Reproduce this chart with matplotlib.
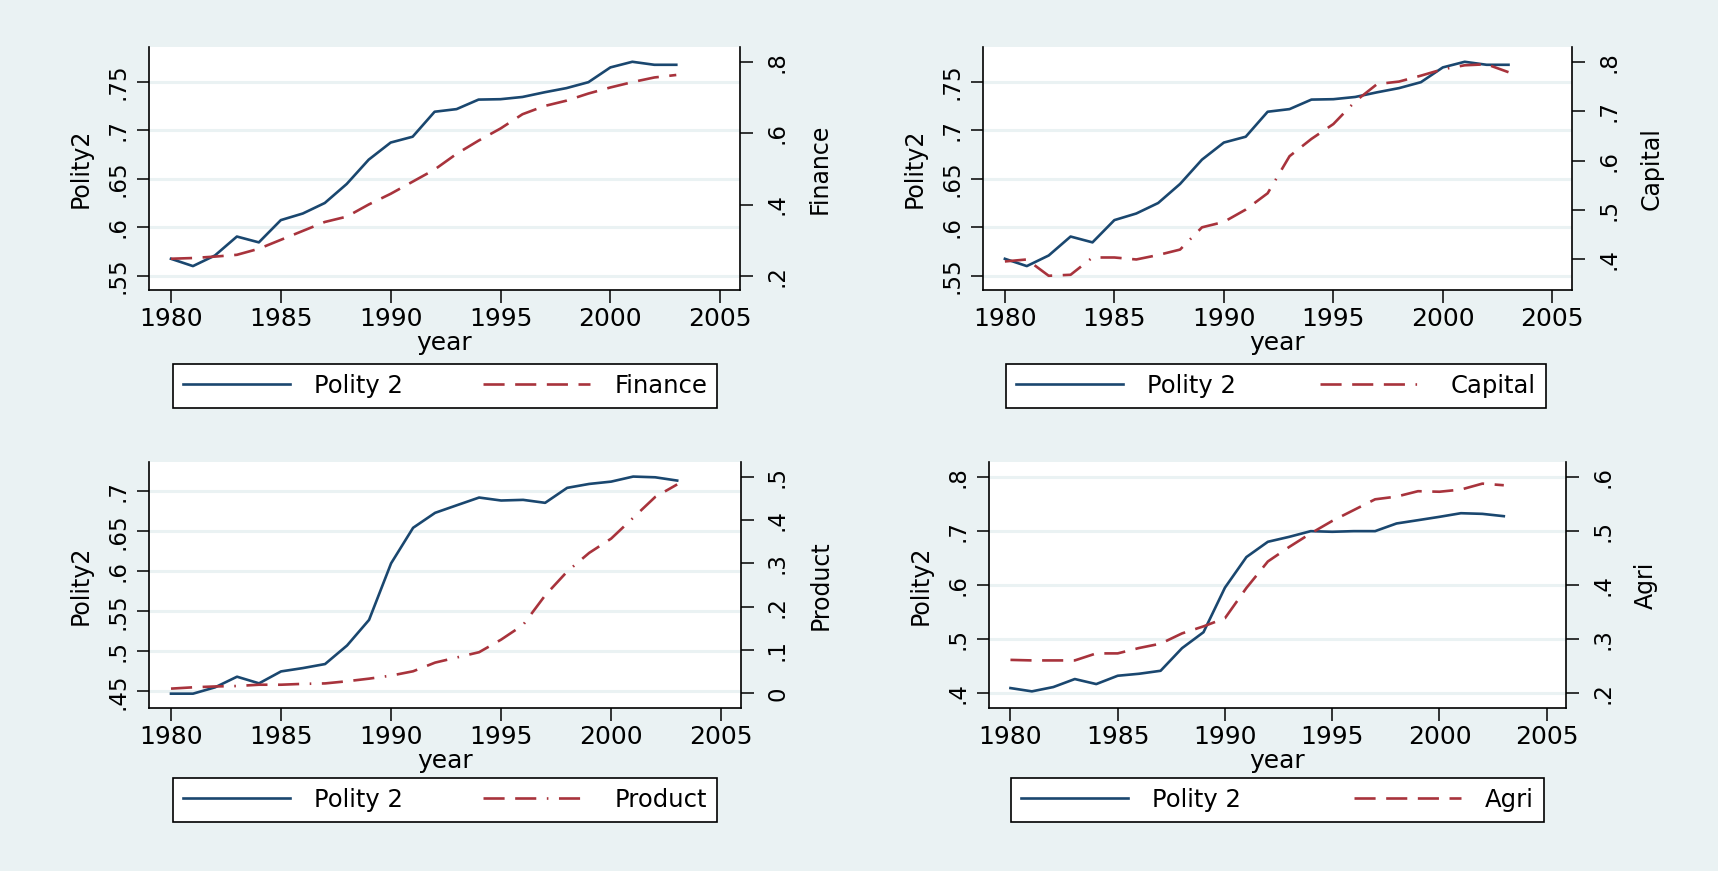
import matplotlib
matplotlib.use("Agg")
import matplotlib.pyplot as plt
import numpy as np

years = list(range(1980, 2004))

# polity2 for the finance / capital sample
polity_fc = [.5676, .5601, .5710, .5905, .5845, .6074, .6142, .6250, .6446, .6696,
             .6872, .6932, .7189, .7216, .7314, .7318, .7341, .7389, .7432, .7493,
             .7645, .7703, .7672, .7672]
finance = [.248, .250, .254, .259, .276, .301, .326, .351, .366, .400,
           .430, .464, .498, .542, .579, .613, .653, .676, .691, .711,
           .728, .743, .756, .763]
capital = [.396, .400, .367, .369, .404, .404, .400, .409, .420, .465,
           .476, .501, .534, .609, .644, .674, .720, .755, .760, .772,
           .785, .793, .795, .779]

# polity2 for the product sample
polity_p = [.4471, .4471, .4550, .4683, .4600, .4749, .4791, .4841, .5073, .5393,
            .6099, .6543, .6730, .6826, .6921, .6884, .6892, .6855, .7042, .7091,
            .7120, .7183, .7174, .7133]
product = [.011, .014, .016, .017, .020, .020, .022, .023, .028, .034,
           .041, .051, .071, .083, .095, .124, .158, .226, .281, .324,
           .357, .405, .453, .482]

# polity2 for the agri sample
polity_a = [.4098, .4037, .4117, .4265, .4172, .4326, .4363, .4418, .4837, .5132,
            .5957, .6523, .6806, .6898, .7003, .6991, .7003, .7003, .7145, .7206,
            .7268, .7335, .7323, .7280]
agri = [.262, .261, .261, .261, .274, .274, .284, .292, .311, .324,
        .339, .395, .444, .471, .496, .519, .539, .559, .564, .574,
        .573, .577, .588, .585]

BG = "#EAF2F3"
BLUE = "#1A476F"
RED = "#A8333C"
W, H = 1718, 871

plt.rcParams['font.family'] = ['DejaVu Sans']

fig = plt.figure(figsize=(W / 100, H / 100), dpi=100)
fig.patch.set_facecolor(BG)


def fmt(v):
    s = f"{v:g}"
    if s.startswith("0."):
        s = s[1:]
    return s


def panel(box, leg_box, polity, other, name, lticks, llim, rticks, rlim, dashes):
    x0, y0, x1, y1 = box
    ax = fig.add_axes([x0 / W, 1 - y1 / H, (x1 - x0) / W, (y1 - y0) / H])
    ax.set_facecolor("white")
    ax2 = ax.twinx()

    l1, = ax.plot(years, polity, color=BLUE, lw=1.9, label="Polity 2")
    l2, = ax2.plot(years, other, color=RED, lw=1.9, dashes=dashes, label=name)

    ax.set_xlim(1979.0, 2005.9)
    ax.set_xticks(range(1980, 2006, 5))
    ax.set_ylim(*llim)
    ax.set_yticks(lticks)
    ax.set_yticklabels([fmt(v) for v in lticks])
    ax2.set_ylim(*rlim)
    ax2.set_yticks(rticks)
    ax2.set_yticklabels([fmt(v) for v in rticks])

    ax.grid(axis="y", color=BG, lw=2.2)
    ax.set_axisbelow(True)
    for a in (ax, ax2):
        a.spines["top"].set_visible(False)
        a.tick_params(length=9, width=1.1, color="black")
        for s in a.spines.values():
            s.set_linewidth(1.2)
    ax.spines["right"].set_visible(False)
    ax2.spines["left"].set_visible(False)
    ax2.spines["bottom"].set_visible(False)

    ax.tick_params(axis="x", labelsize=18, pad=3)
    ax.tick_params(axis="y", labelsize=16.5, pad=5, labelrotation=90)
    ax2.tick_params(axis="y", labelsize=16.5, pad=9, labelrotation=90)
    for t in ax.get_yticklabels() + ax2.get_yticklabels():
        t.set_va("center")

    ax.set_xlabel("year", fontsize=18, labelpad=0)
    ax.set_ylabel("Polity2", fontsize=17, labelpad=10)
    ax2.set_ylabel(name, fontsize=17, labelpad=14)

    lx0, ly0, lx1, ly1 = leg_box
    leg = fig.legend([l1, l2], ["Polity 2", name], loc="center", ncol=2,
                     mode="expand", fontsize=17.5, handlelength=4.4,
                     handletextpad=1.0, borderpad=0.4,
                     bbox_to_anchor=(lx0 / W, 1 - ly1 / H, (lx1 - lx0) / W, (ly1 - ly0) / H),
                     fancybox=False, framealpha=1, edgecolor="black")
    leg.get_frame().set_linewidth(1.2)
    return ax


panel((149, 47, 740, 290), (161, 367, 729, 405), polity_fc, finance, "Finance",
      [.55, .6, .65, .7, .75], (.5355, .7855), [.2, .4, .6, .8], (.1604, .8414), (8, 4))
panel((983, 47, 1572, 290), (994, 367, 1558, 405), polity_fc, capital, "Capital",
      [.55, .6, .65, .7, .75], (.5355, .7855), [.4, .5, .6, .7, .8], (.3382, .83),
      (8, 4, 8, 4, 8, 4, 0.6, 4))
panel((149, 462, 741, 708), (161, 780, 729, 820), polity_p, product, "Product",
      [.45, .5, .55, .6, .65, .7], (.4292, .7365), [0, .1, .2, .3, .4, .5], (-.0337, .5337),
      (8, 4, 8, 4, 0.6, 4))
panel((989, 462, 1566, 708), (999, 780, 1556, 820), polity_a, agri, "Agri",
      [.4, .5, .6, .7, .8], (.3729, .8283), [.2, .3, .4, .5, .6], (.173, .628), (8, 4))

fig.savefig("out.png", dpi=100, facecolor=BG)
